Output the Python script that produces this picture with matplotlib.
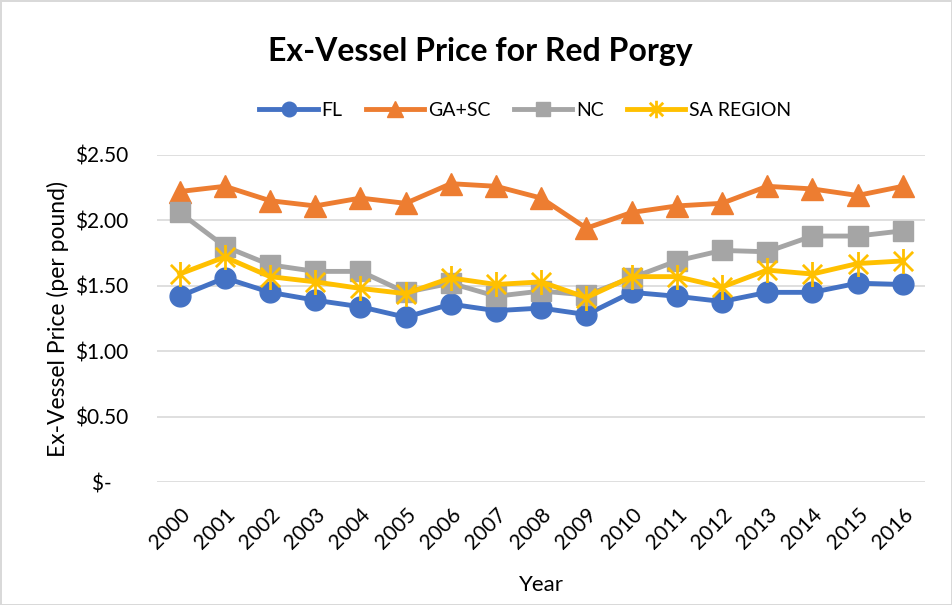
import matplotlib
matplotlib.use("Agg")
import matplotlib.pyplot as plt
from matplotlib.path import Path
from matplotlib.ticker import FuncFormatter

plt.rcParams['font.family'] = ['Lato', 'DejaVu Sans']

years = [str(y) for y in range(2000, 2017)]
fl = [1.42, 1.56, 1.45, 1.39, 1.34, 1.26, 1.36, 1.31, 1.33, 1.28, 1.45, 1.42, 1.38, 1.45, 1.45, 1.52, 1.51]
ga_sc = [2.22, 2.26, 2.15, 2.11, 2.17, 2.13, 2.28, 2.26, 2.17, 1.94, 2.06, 2.11, 2.13, 2.26, 2.24, 2.19, 2.26]
nc = [2.06, 1.80, 1.66, 1.61, 1.61, 1.45, 1.52, 1.42, 1.46, 1.43, 1.56, 1.69, 1.77, 1.76, 1.88, 1.88, 1.92]
sa = [1.59, 1.72, 1.57, 1.53, 1.48, 1.44, 1.56, 1.51, 1.53, 1.41, 1.57, 1.57, 1.49, 1.62, 1.59, 1.67, 1.69]

# Excel style star: X plus vertical bar
star = Path([(-1, -1), (1, 1), (-1, 1), (1, -1), (0, -1.3), (0, 1.3)],
            [Path.MOVETO, Path.LINETO, Path.MOVETO, Path.LINETO, Path.MOVETO, Path.LINETO])

fig = plt.figure(figsize=(9.52, 6.05), dpi=100)
fig.patch.set_edgecolor('#D9D9D9')
fig.patch.set_linewidth(2)
ax = fig.add_axes([0.165, 0.203, 0.807, 0.541])

x = list(range(len(years)))
lw = 3.5
ax.plot(x, fl, color='#4472C4', lw=lw, marker='o', ms=15, label='FL', zorder=3)
ax.plot(x, ga_sc, color='#ED7D31', lw=lw, marker='^', ms=16, label='GA+SC', zorder=3)
ax.plot(x, nc, color='#A5A5A5', lw=lw, marker='s', ms=14, label='NC', zorder=3)
ax.plot(x, sa, color='#FFC000', lw=lw, marker=star, ms=18, mew=2, mec='#FFC000',
        label='SA REGION', zorder=3)

ax.set_xlim(-0.5, 16.5)
ax.set_ylim(0, 2.5)
ax.set_yticks([0, 0.5, 1.0, 1.5, 2.0, 2.5])
ax.yaxis.set_major_formatter(FuncFormatter(lambda v, p: '$-   ' if v == 0 else f'${v:.2f}'))
ax.set_xticks(x)
ax.set_xticklabels(years, rotation=45, ha='right', va='top', rotation_mode='anchor')
ax.tick_params(length=0, labelsize=15, colors='#000000')
ax.tick_params(axis='x', pad=16)
ax.tick_params(axis='y', pad=21)
ax.grid(axis='y', color='#D9D9D9', lw=1.2, zorder=0)
for s in ax.spines.values():
    s.set_visible(False)

ax.set_xlabel('Year', fontsize=16, labelpad=16)
ax.set_ylabel('Ex-Vessel Price (per pound)', fontsize=16.5, labelpad=4)

fig.text(0.505, 0.915, 'Ex-Vessel Price for Red Porgy', ha='center', va='center',
         fontsize=23, fontweight='bold')
fig.legend(loc='center', bbox_to_anchor=(0.552, 0.818), ncol=4, frameon=False,
           fontsize=14, handlelength=3.0, markerscale=0.7, columnspacing=1.2,
           handletextpad=0.2)

fig.savefig('out.png', dpi=100)
